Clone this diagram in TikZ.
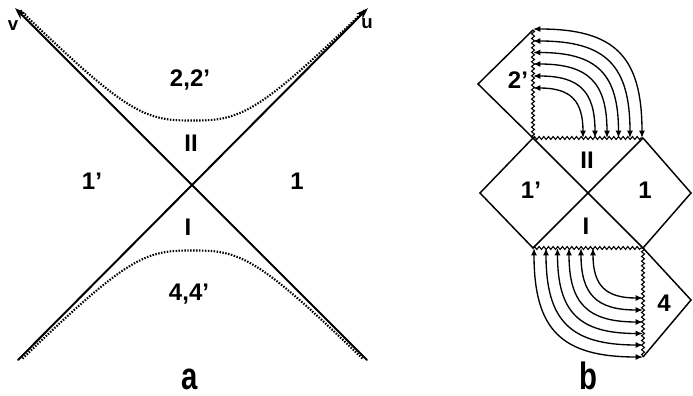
\documentclass[tikz,border=0pt]{standalone}
\usepackage{fontspec}
\setmainfont{Liberation Sans}
\usetikzlibrary{arrows.meta, decorations.pathmorphing, calc}

\newcommand\tallish[1]{\scalebox{1}[1.3]{#1}}

\tikzset{
  cone/.style={line width=1.5pt, line cap=round},
  edge/.style={line width=1.1pt, line join=miter},
  horizon/.style={line width=0.8pt, decorate,
    decoration={snake, amplitude=1.1pt, segment length=3.5pt}},
  hyper/.style={line width=1.6pt, dash pattern=on 1.1pt off 1.1pt},
  flow/.style={line width=1pt,
    {Latex[length=5.5pt, width=4.5pt]}-{Latex[length=5.5pt, width=4.5pt]}},
  region/.style={font=\fontsize{18}{20}\selectfont\bfseries},
  axislabel/.style={font=\fontsize{14}{16}\selectfont\bfseries},
  panel/.style={font=\fontsize{22}{24}\selectfont\bfseries},
}

\begin{document}
\begin{tikzpicture}[x=0.75pt, y=-0.75pt]
  \useasboundingbox (0,0) rectangle (693,396);

  % ---- panel a: light cone and the two hyperbolae
  \def\cx{192.5}
  \def\cy{185.5}

  \coordinate (vtip) at (15,8);
  \coordinate (vend) at (367,360);
  \coordinate (utip) at (368,8);
  \coordinate (uend) at (18,360);

  \draw[cone, -{Stealth[length=9pt, width=6pt]}] (vend) -- (vtip);
  \draw[cone, -{Stealth[length=9pt, width=6pt]}] (uend) -- (utip);

  \draw[hyper] plot[domain=-172:172, samples=81]
    ({\cx+\x}, {\cy - 100*((abs(\x)/100)^3 + 0.2746)^(1/3)});
  \draw[hyper] plot[domain=-170:170, samples=81]
    ({\cx+\x}, {\cy + 100*((abs(\x)/100)^3 + 0.2746)^(1/3)});

  \node[axislabel] (vlab) at (13,26) {v};
  \node[axislabel] (ulab) at (367,24) {u};
  \node[region] (futa)  at (190,80)  {2,2'};
  \node[region] (IIa)   at (191,143) {II};
  \node[region] (onepa) at (92,181)  {1'};
  \node[region] (onea)  at (297,181) {1};
  \node[region] (Ia)    at (188,227) {I};
  \node[region] (pasta) at (189,294) {4,4'};
  \node[panel]  (pa)    at (190,379) {\tallish{a}};

  % ---- panel b: diamond diagram
  \coordinate (A) at (533,30);   % top of 2'
  \coordinate (B) at (478,84);   % left of 2'
  \coordinate (C) at (533,138);
  \coordinate (D) at (643,138);
  \coordinate (E) at (480,193);
  \coordinate (F) at (588,193);
  \coordinate (G) at (691,193);
  \coordinate (H) at (533,248);
  \coordinate (K) at (643,248);
  \coordinate (L) at (691,300);
  \coordinate (M) at (643,357);

  \draw[edge] (A) -- (B) -- (C) -- (F) -- (K) -- (L) -- (M);
  \draw[edge] (D) -- (F) -- (H) -- (E) -- (C);
  \draw[edge] (D) -- (G) -- (K);

  \draw[horizon] (A) -- (C);
  \draw[horizon] (C) -- (D);
  \draw[horizon] (H) -- (K);
  \draw[horizon] (K) -- (M);

  \def\k{0.75}
  \foreach \r in {50, 62, 74, 85.5, 97, 109} {
    \draw[flow] ($(C)+(0,-\r)$)
      .. controls ($(C)+(\k*\r,-\r)$) and ($(C)+(\r,-\k*\r)$) .. ($(C)+(\r,0)$);
    \draw[flow] ($(K)+(-\r,0)$)
      .. controls ($(K)+(-\r,\k*\r)$) and ($(K)+(-\k*\r,\r)$) .. ($(K)+(0,\r)$);
  }

  \node[region] (twop)  at (518,80)  {2'};
  \node[region] (IIb)   at (587,160) {II};
  \node[region] (onepb) at (531,190) {1'};
  \node[region] (oneb)  at (645,190) {1};
  \node[region] (Ib)    at (586,226) {I};
  \node[region] (four)  at (664,303) {4};
  \node[panel]  (pb)    at (588,376) {\tallish{b}};
\end{tikzpicture}
\end{document}
